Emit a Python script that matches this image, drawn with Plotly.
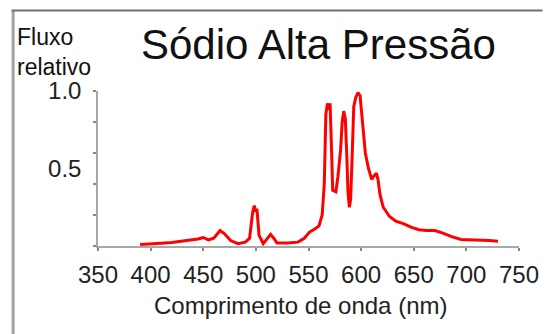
import plotly.graph_objects as go

wavelength_nm = [390, 400, 410, 420, 430, 438, 445, 450, 455, 460, 466, 470, 476, 483, 490,
                 494, 497, 498.5, 500, 501, 503, 507, 511, 514, 517, 520, 530, 540, 546, 551,
                 556, 560, 563, 565, 566.5, 568, 569.5, 570.5, 572, 573, 576, 578, 580.5, 582,
                 583.5, 585, 586.5, 587.5, 588.8, 590, 591.3, 593, 595, 597, 599, 602, 604,
                 607, 610, 612, 614.5, 616, 618, 621, 627, 633, 640, 648, 655, 662, 670, 677,
                 686, 695, 705, 714, 722, 730]
relative_flux = [0.01, 0.012, 0.018, 0.022, 0.03, 0.04, 0.045, 0.055, 0.04, 0.05, 0.10, 0.08,
                 0.035, 0.015, 0.025, 0.05, 0.22, 0.26, 0.22, 0.24, 0.07, 0.015, 0.05, 0.075,
                 0.05, 0.02, 0.02, 0.025, 0.05, 0.09, 0.11, 0.13, 0.2, 0.4, 0.85, 0.92, 0.88,
                 0.92, 0.6, 0.36, 0.35, 0.45, 0.62, 0.8, 0.87, 0.82, 0.56, 0.35, 0.25, 0.3,
                 0.54, 0.9, 0.96, 0.99, 0.97, 0.73, 0.6, 0.5, 0.43, 0.45, 0.47, 0.43, 0.33,
                 0.25, 0.19, 0.16, 0.145, 0.12, 0.105, 0.1, 0.1, 0.085, 0.06, 0.042, 0.04,
                 0.04, 0.035, 0.03]
x_ticks = [350, 400, 450, 500, 550, 600, 650, 700, 750]
y_tick_vals = [0.5, 1.0]
y_tick_text = ["0.5", "1.0"]

W, H = 551, 334
L, R, T, B = 98, 24, 91, 88
PW, PH = W - L - R, H - T - B


def px(x):
    return (x - L) / PW


def py(y):
    return (H - B - y) / PH


FONT = "Liberation Sans, Arial, sans-serif"

fig = go.Figure(go.Scatter(x=wavelength_nm, y=relative_flux, mode="lines",
                           line=dict(color="#ff0000", width=3)))

fig.update_layout(
    width=W, height=H, margin=dict(l=L, r=R, t=T, b=B),
    paper_bgcolor="white", plot_bgcolor="white", showlegend=False,
    font=dict(family=FONT, size=24, color="#222222"),
    xaxis=dict(range=[350, 750], tickvals=x_ticks, showgrid=False, zeroline=False,
               showline=True, linecolor="#a8a8a8", linewidth=1.5,
               ticks="outside", ticklen=3, tickcolor="#888888", tickwidth=1.5,
               ticklabelstandoff=3, tickfont=dict(size=24, color="#222222")),
    yaxis=dict(range=[0, 1.0], tickvals=y_tick_vals, ticktext=y_tick_text, showgrid=False,
               zeroline=False, showline=True, linecolor="#a8a8a8", linewidth=1.5,
               ticks="", ticklabelstandoff=10, tickfont=dict(size=24, color="#222222"),
               minor=dict(ticks="outside", dtick=0.2, tick0=0, ticklen=3,
                          tickcolor="#888888", tickwidth=1.5, showgrid=False)),
    shapes=[
        dict(type="line", xref="paper", yref="paper", x0=px(11.5), x1=px(11.5),
             y0=py(10), y1=py(334), line=dict(color="#a0a0a0", width=3)),
        dict(type="line", xref="paper", yref="paper", x0=px(10), x1=px(551),
             y0=py(10.5), y1=py(10.5), line=dict(color="#707070", width=2)),
    ],
    annotations=[
        dict(text="Sódio Alta Pressão", xref="paper", yref="paper", x=px(323), y=py(44),
             xanchor="center", yanchor="middle", showarrow=False,
             font=dict(size=42, color="#111111", family=FONT)),
        dict(text="Fluxo<br>relativo", xref="paper", yref="paper", x=px(13), y=py(52),
             xanchor="left", yanchor="middle", align="left", showarrow=False,
             font=dict(size=23, color="#111111", family=FONT)),
        dict(text="Comprimento de onda (nm)", xref="paper", yref="paper", x=px(304), y=py(305),
             xanchor="center", yanchor="middle", showarrow=False,
             font=dict(size=24, color="#222222", family=FONT)),
    ],
)

fig.write_html("out.html")
